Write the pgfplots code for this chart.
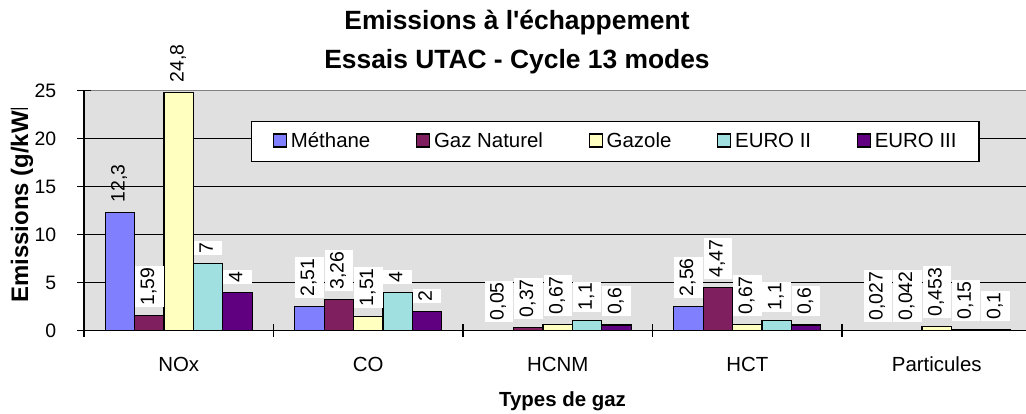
\documentclass[border=0pt]{standalone}
\usepackage{pgfplots}
\pgfplotsset{compat=1.18}
\usepackage{pgfplotstable}
\usepackage{fontspec}
\setmainfont{Liberation Sans}[Ligatures=TeXOff]
\definecolor{methane}{HTML}{8080FF}
\definecolor{gaznat}{HTML}{7F1F5F}
\definecolor{gazole}{HTML}{FFFFC0}
\definecolor{euroii}{HTML}{A0E0E0}
\definecolor{euroiii}{HTML}{600080}
\definecolor{plotbg}{HTML}{E0E0E0}

\pgfplotstableread{
x y lab op
0 12.3 12,3 0
1 2.51 2,51 1
2 0.05 0,05 1
3 2.56 2,56 1
4 0.027 0,027 1
}\tmethane
\pgfplotstableread{
x y lab op
0 1.59 1,59 1
1 3.26 3,26 1
2 0.37 0,37 1
3 4.47 4,47 1
4 0.042 0,042 1
}\tgaznat
\pgfplotstableread{
x y lab op
0 24.8 24,8 0
1 1.51 1,51 1
2 0.67 0,67 1
3 0.67 0,67 1
4 0.453 0,453 1
}\tgazole
\pgfplotstableread{
x y lab op
0 7 7 1
1 4 4 1
2 1.1 1,1 1
3 1.1 1,1 1
4 0.15 0,15 1
}\teuroii
\pgfplotstableread{
x y lab op
0 4 4 1
1 2 2 1
2 0.6 0,6 1
3 0.6 0,6 1
4 0.1 0,1 1
}\teuroiii

\begin{document}
\begin{tikzpicture}
\useasboundingbox (0,0) rectangle (1026bp,414bp);
\begin{axis}[
  at={(84bp,83.3bp)}, anchor=south west,
  width=942bp, height=240bp, scale only axis,
  xmin=-0.5, xmax=4.471, ymin=0, ymax=25,
  enlargelimits=false, clip=false,
  axis lines*=left,
  axis line style={black, line width=1.3bp},
  axis background/.style={fill=plotbg},
  ybar=0pt, bar width=29.4bp,
  xtick={-0.5,0.5,1.5,2.5,3.5}, xticklabels={},
  extra x ticks={0,1,2,3,4},
  extra x tick labels={NOx,CO,HCNM,HCT,Particules},
  extra x tick style={major tick length=0pt, grid=none},
  ytick={0,5,10,15,20},
  extra y ticks={25},
  extra y tick style={grid=major, major grid style={draw=gray, line width=1.6bp}},
  ymajorgrids,
  major grid style={black, line width=1.3bp},
  tick style={black, line width=1.3bp},
  tick align=center, major tick length=13bp,
  /pgf/number format/assume math mode=true,
  ticklabel style={font=\fontsize{19.5}{23}\selectfont},
  xticklabel style={inner sep=0pt, anchor=north, yshift=-26bp, font=\fontsize{20.5}{24}\selectfont},
  yticklabel style={inner sep=0pt, anchor=east, xshift=-21bp},
  xlabel={Types de gaz},
  xlabel style={at={(axis description cs:0.508,-0.3167)}, anchor=base, inner sep=0pt, font=\fontsize{20.5}{24}\selectfont\bfseries},
  point meta=explicit symbolic,
  visualization depends on={\thisrow{op} \as \boxop},
  nodes near coords,
  every node near coord/.append style={font=\fontsize{19.5}{22}\selectfont, yshift=8bp, rotate=90, anchor=west, fill=white, fill opacity=\boxop, text opacity=1, inner xsep=1.5bp, inner ysep=4.5bp, text height=14.5bp, text depth=5bp},
  legend image code/.code={\draw[#1, draw=black, line width=1.2bp] (0bp,-5.5bp) rectangle (13bp,7.5bp);},
  legend columns=5,
  legend style={at={(axis description cs:0.1773,0.874)}, anchor=north west, draw=black, line width=1.3bp, fill=white,
    font=\fontsize{20.5}{24}\selectfont, inner xsep=21bp, inner ysep=9bp,
    nodes={inner sep=1.5bp, text height=15bp, text depth=4bp},
    /tikz/every odd column/.append style={column sep=2.5bp},
    /tikz/every even column/.append style={column sep=44bp}},
  legend entries={Méthane,Gaz Naturel,Gazole,EURO II,EURO III},
]
\addplot[fill=methane, draw=black, line width=1.2bp] table[x=x,y=y,meta=lab] {\tmethane};
\addplot[fill=gaznat, draw=black, line width=1.2bp] table[x=x,y=y,meta=lab] {\tgaznat};
\addplot[fill=gazole, draw=black, line width=1.2bp] table[x=x,y=y,meta=lab] {\tgazole};
\addplot[fill=euroii, draw=black, line width=1.2bp] table[x=x,y=y,meta=lab] {\teuroii};
\addplot[fill=euroiii, draw=black, line width=1.2bp] table[x=x,y=y,meta=lab] {\teuroiii};
\end{axis}
\node[anchor=base, inner sep=0pt, font=\fontsize{26.5}{30}\selectfont\bfseries] at (517bp,384bp) {Emissions à l'échappement};
\node[anchor=base, inner sep=0pt, font=\fontsize{26.5}{30}\selectfont\bfseries] at (517bp,345.7bp) {Essais UTAC - Cycle 13 modes};
\begin{scope}
\clip (0,0) rectangle (84bp,305bp);
\node[rotate=90, anchor=base west, inner sep=0pt, font=\fontsize{24}{28}\selectfont\bfseries] at (28bp,111.3bp) {Emissions (g/kWh)};
\end{scope}
\end{tikzpicture}
\end{document}
